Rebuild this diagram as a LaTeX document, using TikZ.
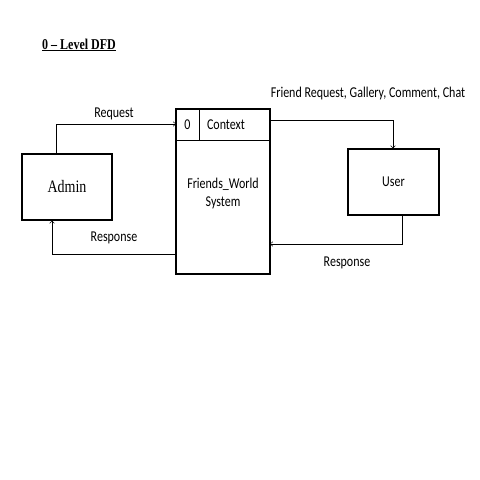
\documentclass[tikz,border=0pt]{standalone}
\usepackage{fontspec}
\usepackage{graphicx}
\setmainfont{Liberation Serif}
\newfontfamily\lbl{Carlito}
\usetikzlibrary{arrows.meta}
\newcommand{\tall}[1]{\scalebox{1}[1.25]{#1}}
\begin{document}
\begin{tikzpicture}[x=1pt,y=-1pt,
  boxst/.style={draw,line width=1.2pt},
  flow/.style={draw,line width=0.5pt,-{To[length=3pt,width=5pt]}},
  lab/.style={font=\lbl\fontsize{12}{14}\selectfont,inner sep=0pt}]
\useasboundingbox (0,0) rectangle (480,480);
\node[font=\bfseries\fontsize{12}{14}\selectfont,inner sep=0pt,anchor=west] (title) at (42,45) {\underline{\tall{0 -- Level DFD}}};
% Admin
\node[boxst,minimum width=90pt,minimum height=66pt,inner sep=0pt,font=\fontsize{14}{16}\selectfont] (admin) at (67,187) {\tall{Admin}};
% Process
\draw[boxst] (176,109) rectangle (270,274);
\draw[line width=0.6pt] (176,140) -- (270,140);
\draw[line width=0.6pt] (199,109) -- (199,140);
\node[lab] (pid) at (187.5,124.5) {\tall{0}};
\node[lab] (ctx) at (226,124.5) {\tall{Context}};
\node[lab,align=center] (sys) at (223,193) {\tall{\shortstack{Friends\_World\\[2pt]System}}};
% User
\node[boxst,minimum width=91pt,minimum height=66pt,inner sep=0pt,font=\lbl\fontsize{12}{14}\selectfont] (user) at (393.5,182) {\tall{User}};
% flows
\coordinate (pin1) at (176,124);
\coordinate (pout1) at (270,120);
\coordinate (pout2) at (176,254);
\coordinate (pin2) at (270,244);
\draw[flow] (admin.north -| 56,0) |- (pin1);
\draw[flow] (pout1) -| (user.north -| 393,0);
\draw[flow] (user.south -| 402,0) |- (pin2);
\draw[flow] (pout2) -| (admin.south -| 52,0);
\node[lab] (l1) at (114,114) {\tall{Request}};
\node[lab] (l2) at (114,238) {\tall{Response}};
\node[lab] (l3) at (368,93) {\tall{Friend Request, Gallery, Comment, Chat}};
\node[lab] (l4) at (347,263) {\tall{Response}};
\end{tikzpicture}
\end{document}
